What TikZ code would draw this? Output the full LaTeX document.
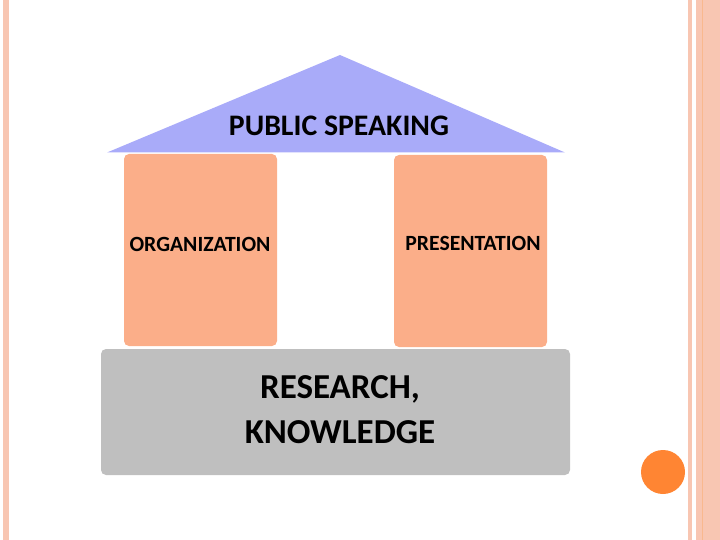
\documentclass[tikz,border=0pt]{standalone}
\usepackage{fontspec}
\setmainfont{Carlito}
\definecolor{roof}{HTML}{A9ABF9}
\definecolor{pillar}{HTML}{FBAE89}
\definecolor{ground}{HTML}{BFBFBF}
\definecolor{stripe}{HTML}{F8C6B2}
\definecolor{dot}{HTML}{FF8533}
\tikzset{
	label text/.style 2 args = {font=\bfseries\fontsize{#1}{#2}\selectfont, align=center},
}
\begin{document}
\begin{tikzpicture}[x=1pt, y=-1pt]
	\useasboundingbox (0,0) rectangle (720,540);
	% frame stripes
	\fill[stripe] (3,0) rectangle (9,540);
	\fill[stripe] (688,0) rectangle (692,540);
	\fill[stripe] (696,0) rectangle (720,540);
	\draw[stripe!80!orange, line width=0.8pt] (702,0) -- (702,540);
	\fill[dot] (663,472) circle (22);
	% house
	\fill[roof] (107,152.5) -- (340,55) -- (565,152.5) -- cycle;
	\node[label text={29.8}{34}] (roofText) at (339,126) {PUBLIC SPEAKING};
	\fill[pillar, rounded corners=5] (124,154) rectangle (277,346);
	\fill[pillar, rounded corners=5] (394,155) rectangle (547,347);
	\node[label text={21.7}{26}] (orgText) at (200,244) {ORGANIZATION};
	\node[label text={21.7}{26}] (presText) at (473,243) {PRESENTATION};
	\fill[ground, rounded corners=5] (101,349) rectangle (570,475);
	\node[label text={35}{45}] (baseText) at (340,410) {RESEARCH,\\KNOWLEDGE};
\end{tikzpicture}
\end{document}
